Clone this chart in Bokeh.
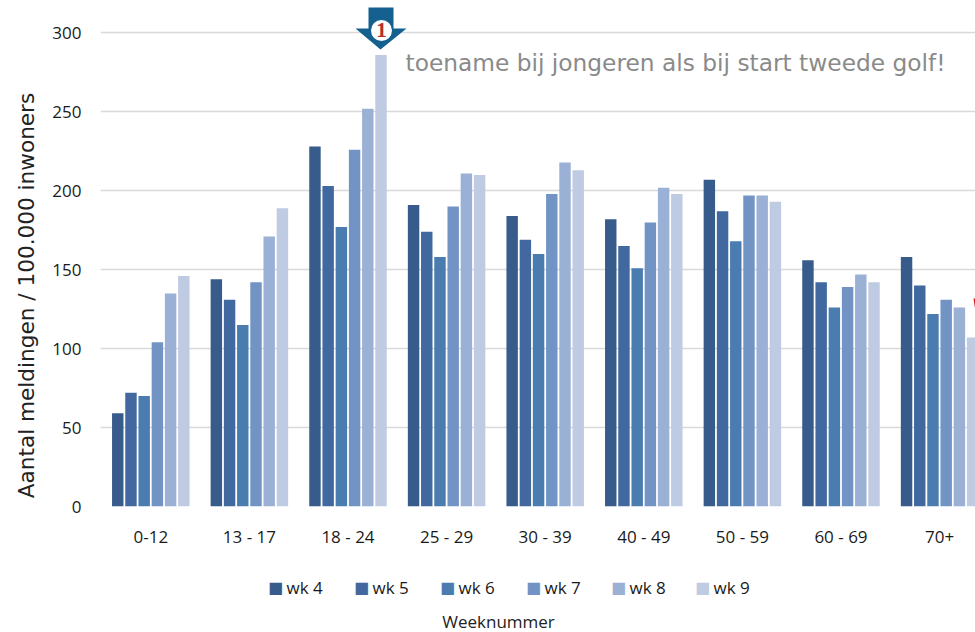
from bokeh.embed import file_html
from bokeh.resources import INLINE
from bokeh.models import (Range1d, FixedTicker, Label, PolyAnnotation, ColumnDataSource)
from bokeh.plotting import figure
from bokeh.core.properties import value

categories = ["0-12", "13 - 17", "18 - 24", "25 - 29", "30 - 39", "40 - 49", "50 - 59", "60 - 69", "70+"]
wk4 = [59, 144, 228, 191, 184, 182, 207, 156, 158]
wk5 = [72, 131, 203, 174, 169, 165, 187, 142, 140]
wk6 = [70, 115, 177, 158, 160, 151, 168, 126, 122]
wk7 = [104, 142, 226, 190, 198, 180, 197, 139, 131]
wk8 = [135, 171, 252, 211, 218, 202, 197, 147, 126]
wk9 = [146, 189, 286, 210, 213, 198, 193, 142, 107]
series_names = ["wk 4", "wk 5", "wk 6", "wk 7", "wk 8", "wk 9"]
series_values = [wk4, wk5, wk6, wk7, wk8, wk9]
colors = ["#375c8c", "#41699f", "#4a7cb0", "#7294c4", "#9bb0d5", "#bfcbe2"]
y_ticks = [0, 50, 100, 150, 200, 250, 300]
y_title = "Aantal meldingen / 100.000 inwoners"
x_title = "Weeknummer"
note = "toename bij jongeren als bij start tweede golf!"

W, H = 975, 632
FL, FT, FB = 100, 0, 125.5
GROUP_PX = 98.6
UNIT_PX = 1.58
X0 = -0.01
frame_w = W - FL
frame_h = H - FT - FB

p = figure(width=W, height=H, output_backend="svg", toolbar_location=None,
           x_range=Range1d(X0, X0 + frame_w / GROUP_PX),
           y_range=Range1d(0, frame_h / UNIT_PX),
           frame_width=int(frame_w), frame_height=int(round(frame_h)),
           min_border_left=FL, min_border_right=0, min_border_top=FT,
           min_border_bottom=int(FB), background_fill_color="white",
           border_fill_color="white", outline_line_color=None)

pitch = 0.134
for k, (name, vals, col) in enumerate(zip(series_names, series_values, colors)):
    xs = [i + 0.5 + (k - 2.5) * pitch for i in range(len(categories))]
    src = ColumnDataSource(dict(x=xs, top=vals))
    p.vbar(x="x", top="top", bottom=0, width=0.116, source=src,
           fill_color=col, line_color=None)

p.xgrid.visible = False
p.ygrid.ticker = FixedTicker(ticks=y_ticks)
p.ygrid.grid_line_color = "#d9d9d9"
p.ygrid.grid_line_width = 1.5

FONT = "Open Sans"
p.yaxis.ticker = FixedTicker(ticks=y_ticks)
p.yaxis.axis_line_color = None
p.yaxis.major_tick_line_color = None
p.yaxis.minor_tick_line_color = None
p.yaxis.major_label_standoff = 13
p.yaxis.major_label_text_font = FONT
p.yaxis.major_label_text_font_size = "17px"
p.yaxis.major_label_text_color = "#1a1a1a"

p.xaxis.ticker = FixedTicker(ticks=[i + 0.5 for i in range(len(categories))])
p.xaxis.major_label_overrides = {i + 0.5: c for i, c in enumerate(categories)}
p.xaxis.axis_line_color = None
p.xaxis.major_tick_line_color = None
p.xaxis.minor_tick_line_color = None
p.xaxis.major_label_standoff = 12
p.xaxis.major_label_text_font = FONT
p.xaxis.major_label_text_font_size = "17px"
p.xaxis.major_label_text_color = "#1a1a1a"

# legend: coloured squares and names, placed in the panel under the axis
legend_left = [269, 355, 441, 527, 612, 696]
for left, name, col in zip(legend_left, series_names, colors):
    p.add_layout(Label(x=left + 6, y=587, x_units="canvas", y_units="canvas",
                       text="\u25a0", text_align="center", text_baseline="middle",
                       text_font="DejaVu Sans", text_font_size="16px", text_color=col), "below")
    p.add_layout(Label(x=left + 17, y=587, x_units="canvas", y_units="canvas",
                       text=name, text_align="left", text_baseline="middle",
                       text_font=FONT, text_font_size="17px", text_color="#1a1a1a"), "below")

p.add_layout(Label(x=26, y=295, x_units="canvas", y_units="canvas",
                   text=y_title, angle=90, angle_units="deg",
                   text_align="center", text_baseline="middle",
                   text_font="DejaVu Sans", text_font_size="21.6px", text_color="#222222"), "left")
p.add_layout(Label(x=498, y=621, x_units="canvas", y_units="canvas",
                   text=x_title, text_align="center", text_baseline="middle",
                   text_font=FONT, text_font_size="17px", text_color="#222222"), "below")
p.add_layout(Label(x=405, y=62, x_units="canvas", y_units="canvas",
                   text=note, text_align="left", text_baseline="middle",
                   text_font="DejaVu Sans", text_font_size="23.3px", text_color="#8a8a8a"))

ax = [368, 393, 393, 406, 380, 355, 368]
ay = [7, 7, 28, 28, 49, 28, 28]
p.add_layout(PolyAnnotation(xs=ax, ys=ay, xs_units="canvas", ys_units="canvas",
                            fill_color="#14608f", fill_alpha=1, line_color=None))
cx, cy = X0 + (381 - FL) / GROUP_PX, (506.5 - 30) / UNIT_PX
p.scatter(x=[cx], y=[cy], size=21, marker="circle", fill_color="white", line_color=None, level="overlay")
p.text(x=[cx], y=[cy], text=["1"], text_align="center",
       text_baseline="middle", text_font=value("Liberation Serif"), text_font_style="bold",
       text_font_size="21px", text_color="#b5302a", level="overlay")

p.add_layout(PolyAnnotation(xs=[973, 975, 975], ys=[298, 298, 311], xs_units="canvas", ys_units="canvas",
                            fill_color="#d01c24", fill_alpha=1, line_color=None))

open("out.html", "w").write(file_html(p, INLINE))
